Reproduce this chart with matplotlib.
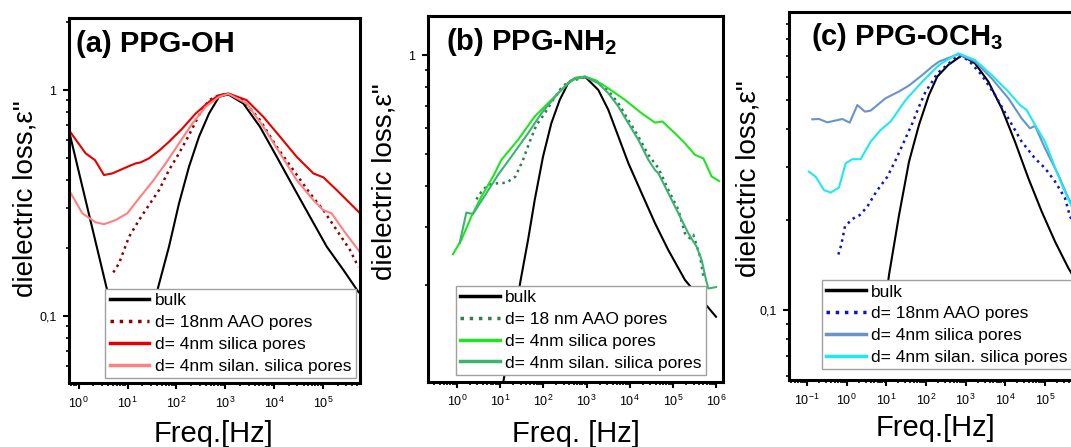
import matplotlib
matplotlib.use('Agg')
import matplotlib.pyplot as plt
from matplotlib.ticker import LogLocator, FixedLocator, NullFormatter, FuncFormatter

plt.rcParams['font.family'] = ['Liberation Sans', 'DejaVu Sans']
plt.rcParams['mathtext.fontset'] = 'custom'
plt.rcParams['mathtext.rm'] = 'Liberation Sans'
plt.rcParams['mathtext.bf'] = 'Liberation Sans:bold'
plt.rcParams['mathtext.it'] = 'Liberation Sans:italic'

# ---- panel (a) PPG-OH ----
bulk_a_f = [0.634, 3.68, 9.0, 20.0, 42.7, 70.6, 113, 181, 290, 465, 744, 1156, 2340, 5140,
            11300, 24700, 54200, 119000, 261000, 528000, 571000]
bulk_a_e = [0.661, 0.135, 0.062, 0.065, 0.135, 0.203, 0.315, 0.458, 0.622, 0.788, 0.934, 0.957,
            0.873, 0.688, 0.507, 0.373, 0.275, 0.203, 0.160, 0.128, 0.126]
aao_a_f = [5.12, 6.69, 10.7, 17.2, 27.5, 44.1, 70.6, 113, 181, 290, 465, 744, 1156, 2340, 5140,
           11300, 24700, 54200, 102000, 191000, 357000, 528000]
aao_a_e = [0.156, 0.171, 0.224, 0.266, 0.310, 0.361, 0.443, 0.525, 0.632, 0.775, 0.903, 0.950,
           0.963, 0.903, 0.736, 0.561, 0.443, 0.349, 0.294, 0.240, 0.196, 0.165]
sil_a_f = [0.634, 1.39, 2.16, 3.30, 4.89, 10.7, 14.7, 18.6, 27.5, 44.1, 70.6, 132, 248, 465, 744,
           1156, 2740, 6010, 13200, 28900, 63400, 102000, 191000, 528000, 571000]
sil_a_e = [0.665, 0.525, 0.490, 0.421, 0.428, 0.461, 0.474, 0.479, 0.499, 0.539, 0.591, 0.676,
           0.788, 0.888, 0.950, 0.967, 0.903, 0.762, 0.622, 0.507, 0.428, 0.411, 0.361, 0.290, 0.285]
silan_a_f = [0.634, 1.19, 2.23, 3.30, 5.72, 9.91, 17.2, 32.2, 60.3, 113, 212, 397, 744, 1156,
             2740, 6010, 13200, 28900, 63400, 102000, 150000, 261000, 528000, 571000]
silan_a_e = [0.361, 0.285, 0.260, 0.255, 0.266, 0.285, 0.332, 0.393, 0.474, 0.581, 0.712, 0.844,
             0.934, 0.963, 0.873, 0.688, 0.525, 0.400, 0.326, 0.294, 0.285, 0.240, 0.196, 0.191]

# ---- panel (b) PPG-NH2 ----
bulk_b_f = [8.0, 11.9, 18.5, 29.9, 44.3, 63.1, 98.4, 153, 239, 373, 532, 922, 1870, 3190, 5440,
            9260, 18800, 38300, 78000, 189000, 988000]
bulk_b_e = [0.08, 0.1016, 0.143, 0.207, 0.274, 0.362, 0.491, 0.620, 0.730, 0.820, 0.849, 0.859,
            0.783, 0.681, 0.565, 0.469, 0.380, 0.308, 0.255, 0.207, 0.160]
aao_b_f = [2.83, 3.69, 5.26, 8.20, 14.0, 22.6, 33.9, 48.4, 69.0, 108, 168, 239, 373, 922, 1870,
           3190, 5440, 9260, 15800, 26900, 45800, 78000, 133000, 189000, 247000, 295000, 421000,
           504000]
aao_b_e = [0.364, 0.384, 0.403, 0.407, 0.409, 0.427, 0.480, 0.545, 0.612, 0.665, 0.730, 0.783,
           0.830, 0.855, 0.830, 0.779, 0.713, 0.634, 0.565, 0.497, 0.453, 0.389, 0.338, 0.287,
           0.277, 0.284, 0.244, 0.212]
sil_b_f = [0.815, 1.27, 2.17, 3.69, 6.87, 10.7, 26.0, 63.1, 153, 373, 581, 922, 1570, 3190, 7760,
           18800, 38300, 56700, 111000, 189000, 323000, 503000, 784000, 1160000]
sil_b_e = [0.248, 0.274, 0.323, 0.371, 0.427, 0.480, 0.552, 0.650, 0.730, 0.820, 0.855, 0.859,
           0.839, 0.792, 0.730, 0.665, 0.623, 0.628, 0.578, 0.539, 0.497, 0.485, 0.427, 0.414]
silan_b_f = [1.16, 1.66, 1.98, 2.37, 4.81, 8.95, 18.2, 44.3, 90.1, 219, 445, 922, 1870, 3190,
             5440, 9260, 15800, 26900, 38300, 45800, 78000, 133000, 226000, 353000, 460000,
             580000, 656000, 988000]
silan_b_e = [0.268, 0.332, 0.330, 0.329, 0.380, 0.432, 0.491, 0.578, 0.665, 0.765, 0.839, 0.859,
             0.820, 0.765, 0.697, 0.620, 0.552, 0.480, 0.447, 0.437, 0.380, 0.330, 0.287, 0.261,
             0.238, 0.207, 0.195, 0.197]

# ---- panel (c) PPG-OCH3 ----
bulk_c_f = [6.0, 9.0, 11.7, 20.9, 37.3, 66.6, 119, 193, 366, 793, 1720, 3730, 8090, 17500, 38000,
            82400, 179000, 387000, 925000]
bulk_c_e = [0.075, 0.10, 0.131, 0.207, 0.312, 0.414, 0.521, 0.600, 0.656, 0.705, 0.664, 0.577,
            0.470, 0.364, 0.275, 0.213, 0.169, 0.138, 0.114]
aao_c_f = [0.617, 0.734, 0.908, 1.39, 2.13, 3.32, 5.60, 10.6, 17.2, 27.9, 45.2, 66.6, 98.2, 144,
           193, 653, 1170, 2530, 5480, 11900, 25800, 56000, 100000, 179000, 319000, 427000, 925000]
aao_c_e = [0.153, 0.165, 0.190, 0.201, 0.207, 0.221, 0.248, 0.278, 0.316, 0.364, 0.419, 0.476,
           0.535, 0.577, 0.615, 0.705, 0.681, 0.607, 0.521, 0.435, 0.364, 0.320, 0.297, 0.268,
           0.236, 0.205, 0.171]
sil_c_f = [0.136, 0.201, 0.326, 0.778, 1.19, 1.86, 2.90, 4.03, 9.62, 20.9, 37.3, 80.8, 144, 213,
           653, 1720, 4520, 11900, 25800, 41900, 56000, 100000, 217000, 387000, 925000]
sil_c_e = [0.432, 0.433, 0.422, 0.433, 0.421, 0.482, 0.458, 0.462, 0.508, 0.535, 0.560, 0.607,
           0.648, 0.673, 0.712, 0.673, 0.592, 0.508, 0.435, 0.403, 0.411, 0.346, 0.282, 0.236,
           0.195]
silan_c_f = [0.112, 0.165, 0.268, 0.395, 0.641, 0.944, 1.39, 2.25, 4.03, 7.20, 12.9, 30.7, 80.8,
             213, 653, 1720, 4520, 11900, 23400, 34500, 56000, 100000, 197000, 290000, 452000,
             925000]
silan_c_e = [0.289, 0.278, 0.251, 0.246, 0.256, 0.308, 0.318, 0.318, 0.364, 0.398, 0.425, 0.501,
             0.577, 0.656, 0.717, 0.681, 0.607, 0.534, 0.482, 0.464, 0.414, 0.364, 0.289, 0.255,
             0.224, 0.190]

labels_a = ['bulk', 'd= 18nm AAO pores', 'd= 4nm silica pores', 'd= 4nm silan. silica pores']
labels_b = ['bulk', 'd= 18 nm AAO pores', 'd= 4nm silica pores', 'd= 4nm silan. silica pores']
labels_c = labels_a

# decades that carry a labelled tick in each panel
xdec_a = [1e0, 1e1, 1e2, 1e3, 1e4, 1e5]
xdec_b = [1e0, 1e1, 1e2, 1e3, 1e4, 1e5, 1e6]
xdec_c = [1e-1, 1e0, 1e1, 1e2, 1e3, 1e4, 1e5]

panels = [
    dict(rect=[0.0644, 0.1425, 0.2717, 0.8166], xlim=(0.634, 5.7e5), ylim=(0.0504, 2.08),
         xdec=xdec_a,
         title='(a) PPG-OH', title_xy=(0.024, 0.9085), xlabel='Freq.[Hz]', xlab_xy=(0.498, -0.139),
         ylab_xy=(-0.151, 0.507), leg_xy=(0.124, 0.014), labels=labels_a,
         colors=['black', '#8b0000', '#e60000', '#ff8080'],
         data=[(bulk_a_f, bulk_a_e), (aao_a_f, aao_a_e), (sil_a_f, sil_a_e), (silan_a_f, silan_a_e)]),
    dict(rect=[0.3993, 0.1462, 0.2755, 0.8180], xlim=(0.211, 1.41e6), ylim=(0.1016, 1.314),
         xdec=xdec_b,
         title=r'(b) PPG-NH$_\mathbf{2}$', title_xy=(0.062, 0.907), xlabel='Freq. [Hz]',
         xlab_xy=(0.503, -0.143), ylab_xy=(-0.145, 0.546), leg_xy=(0.095, 0.018), labels=labels_b,
         colors=['black', '#2e7d4f', '#1ee61e', '#3cb371'],
         data=[(bulk_b_f, bulk_b_e), (aao_b_f, aao_b_e), (sil_b_f, sil_b_e), (silan_b_f, silan_b_e)]),
    dict(rect=[0.7367, 0.1499, 0.2810, 0.8225], xlim=(0.0352, 1.36e6), ylim=(0.0584, 0.982),
         xdec=xdec_c,
         title=r'(c) PPG-OCH$_\mathbf{3}$', title_xy=(0.072, 0.911), xlabel='Freq.[Hz]',
         xlab_xy=(0.487, -0.131), ylab_xy=(-0.136, 0.549), leg_xy=(0.1086, 0.029), labels=labels_c,
         colors=['black', '#0a14c8', '#6a93c9', '#1ee8f0'],
         data=[(bulk_c_f, bulk_c_e), (aao_c_f, aao_c_e), (sil_c_f, sil_c_e), (silan_c_f, silan_c_e)]),
]

fig = plt.figure(figsize=(10.71, 4.47), dpi=100)

for p in panels:
    ax = fig.add_axes(p['rect'])
    ax.set_xscale('log')
    ax.set_yscale('log')
    for i, ((f, e), col, lab) in enumerate(zip(p['data'], p['colors'], p['labels'])):
        if i == 1:
            ax.plot(f, e, color=col, lw=1.8, ls=':', label=lab)
        else:
            ax.plot(f, e, color=col, lw=1.5, label=lab)
    ax.set_xlim(*p['xlim'])
    ax.set_ylim(*p['ylim'])

    ax.xaxis.set_major_locator(FixedLocator(p['xdec']))
    ax.xaxis.set_minor_locator(LogLocator(base=10, subs=range(2, 10), numticks=20))
    ax.xaxis.set_minor_formatter(NullFormatter())
    ax.yaxis.set_major_locator(LogLocator(base=10, numticks=20))
    ax.yaxis.set_minor_locator(LogLocator(base=10, subs=range(2, 10), numticks=20))
    ax.yaxis.set_minor_formatter(NullFormatter())
    ax.yaxis.set_major_formatter(FuncFormatter(lambda v, pos: f'{v:g}'.replace('.', ',')))

    ax.tick_params(which='major', direction='out', length=4, width=1.5, labelsize=9, pad=5)
    ax.tick_params(which='minor', direction='out', length=2.5, width=1.2)
    for sp in ax.spines.values():
        sp.set_linewidth(2.2)

    ax.text(*p['title_xy'], p['title'], transform=ax.transAxes, fontsize=21, fontweight='bold',
            ha='left', va='baseline')
    ax.text(*p['xlab_xy'], p['xlabel'], transform=ax.transAxes, fontsize=21, ha='center', va='center')
    ax.text(*p['ylab_xy'], 'dielectric loss,ε"', transform=ax.transAxes, fontsize=20,
            rotation=90, ha='center', va='center')

    leg = ax.legend(loc='lower left', bbox_to_anchor=p['leg_xy'], borderaxespad=0,
                    fontsize=12.5, handlelength=2.3, handletextpad=0.3, labelspacing=0.38,
                    borderpad=0.26, fancybox=False, framealpha=1, edgecolor='#a0a0a0')
    leg.get_frame().set_linewidth(1.0)
    for ln in leg.get_lines():
        ln.set_linewidth(2.5)

fig.savefig('out.png', dpi=100)
